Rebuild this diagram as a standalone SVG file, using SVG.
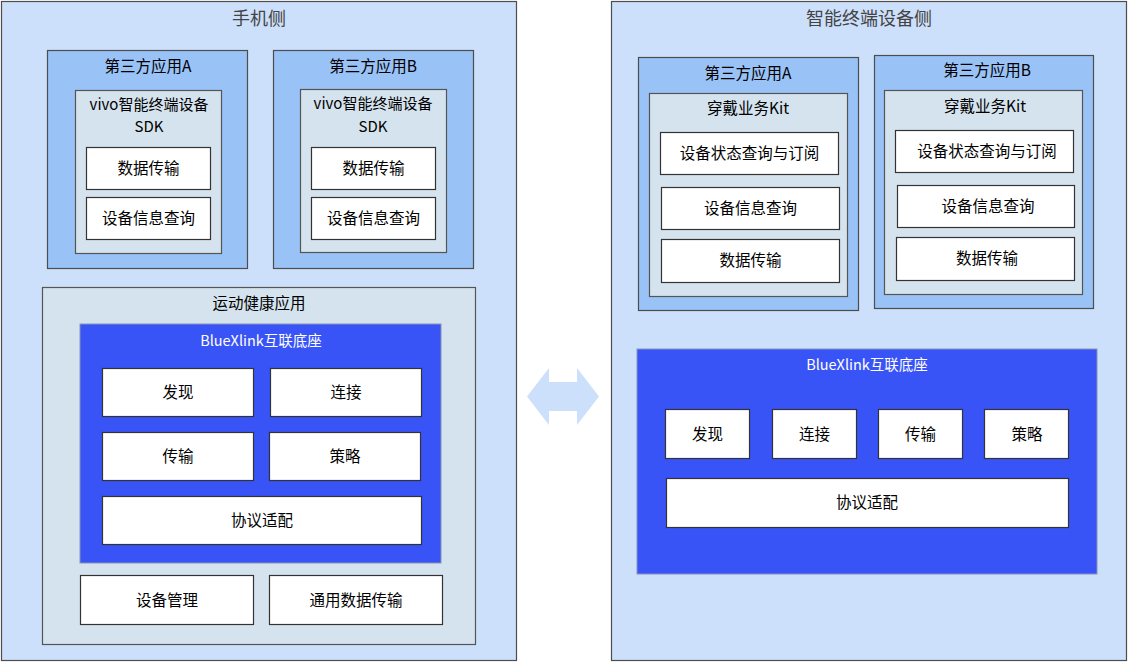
<svg xmlns="http://www.w3.org/2000/svg" width="1128" height="662" viewBox="0 0 1128 662">
<style>
text{font-family:"Noto Sans CJK SC","Microsoft YaHei",sans-serif;font-size:15.5px;fill:#000;text-anchor:middle;dominant-baseline:central;transform:translateY(-1.5px)}
.side{fill:#cce0fb;stroke:#4d4d4d;stroke-width:1.2}
.app{fill:#99c2f7;stroke:#4d4d4d;stroke-width:1.2}
.inner{fill:#d5e3ee;stroke:#555;stroke-width:1.2}
.blue{fill:#3853f6;stroke:#8a93b8;stroke-width:1}
.box{fill:#fff;stroke:#333;stroke-width:1.2}
.title{font-size:18px;fill:#444}
.wt{fill:#fff;font-size:14.5px}
.sdk{font-size:15px}
</style>
<g id="phone-side">
<rect class="side" x="1.5" y="1.5" width="515" height="659"/>
<text class="title" x="259" y="18">手机侧</text>
</g>
<g id="device-side">
<rect class="side" x="611.5" y="1.5" width="515" height="659"/>
<text class="title" x="869" y="18">智能终端设备侧</text>
</g>
<g id="phone-appA">
<rect class="app" x="47.5" y="50.5" width="200" height="218"/>
<text x="148" y="66">第三方应用A</text>
<rect class="inner" x="75.5" y="90.5" width="146" height="163"/>
<text class="sdk" x="149" y="104.5">vivo智能终端设备</text>
<text class="sdk" x="149" y="127">SDK</text>
<rect class="box" x="86.5" y="147.5" width="124" height="42"/>
<text x="148.5" y="168">数据传输</text>
<rect class="box" x="86.5" y="197.5" width="124" height="42"/>
<text x="148.5" y="218">设备信息查询</text>
</g>
<g id="phone-appB">
<rect class="app" x="273.5" y="50.5" width="200" height="218"/>
<text x="373" y="66">第三方应用B</text>
<rect class="inner" x="300.5" y="89.5" width="146" height="163"/>
<text class="sdk" x="373" y="104">vivo智能终端设备</text>
<text class="sdk" x="373" y="126.5">SDK</text>
<rect class="box" x="311.5" y="147.5" width="124" height="42"/>
<text x="373.5" y="168">数据传输</text>
<rect class="box" x="311.5" y="197.5" width="124" height="42"/>
<text x="373.5" y="218">设备信息查询</text>
</g>
<g id="health-app">
<rect class="inner" x="42.5" y="287.5" width="433" height="357"/>
<text x="259" y="303">运动健康应用</text>
<rect class="blue" x="80" y="324" width="361" height="239"/>
<text class="wt" x="261" y="341">BlueXlink互联底座</text>
<rect class="box" x="102.5" y="368.5" width="151" height="48"/>
<text x="178" y="392">发现</text>
<rect class="box" x="270.5" y="368.5" width="151" height="48"/>
<text x="346" y="392">连接</text>
<rect class="box" x="102.5" y="432.5" width="151" height="48"/>
<text x="178" y="456">传输</text>
<rect class="box" x="269.5" y="432.5" width="151" height="48"/>
<text x="345" y="456">策略</text>
<rect class="box" x="102.5" y="496.5" width="319" height="48"/>
<text x="262" y="520">协议适配</text>
<rect class="box" x="80.5" y="575.5" width="173" height="49"/>
<text x="167" y="600">设备管理</text>
<rect class="box" x="269.5" y="575.5" width="173" height="49"/>
<text x="356" y="600">通用数据传输</text>
</g>
<g id="device-appA">
<rect class="app" x="638.5" y="57.5" width="220" height="253"/>
<text x="748" y="73">第三方应用A</text>
<rect class="inner" x="649.5" y="93.5" width="198" height="203"/>
<text x="748" y="108">穿戴业务Kit</text>
<rect class="box" x="660.5" y="132.5" width="178" height="42"/>
<text x="749.5" y="153">设备状态查询与订阅</text>
<rect class="box" x="661.5" y="187.5" width="178" height="42"/>
<text x="750.5" y="208">设备信息查询</text>
<rect class="box" x="661.5" y="239.5" width="178" height="43"/>
<text x="750.5" y="260">数据传输</text>
</g>
<g id="device-appB">
<rect class="app" x="874.5" y="55.5" width="219" height="253"/>
<text x="987" y="70">第三方应用B</text>
<rect class="inner" x="884.5" y="90.5" width="198" height="204"/>
<text x="985" y="106">穿戴业务Kit</text>
<rect class="box" x="895.5" y="130.5" width="178" height="42"/>
<text x="987" y="151">设备状态查询与订阅</text>
<rect class="box" x="897.5" y="185.5" width="177" height="42"/>
<text x="988" y="206">设备信息查询</text>
<rect class="box" x="896.5" y="237.5" width="178" height="43"/>
<text x="987" y="258">数据传输</text>
</g>
<g id="device-bluexlink">
<rect class="blue" x="637" y="349" width="460" height="225"/>
<text class="wt" x="867" y="365">BlueXlink互联底座</text>
<rect class="box" x="665.5" y="409.5" width="84" height="49"/>
<text x="707.5" y="434">发现</text>
<rect class="box" x="772.5" y="409.5" width="84" height="49"/>
<text x="814.5" y="434">连接</text>
<rect class="box" x="878.5" y="409.5" width="84" height="49"/>
<text x="920.5" y="434">传输</text>
<rect class="box" x="984.5" y="409.5" width="84" height="49"/>
<text x="1027" y="434">策略</text>
<rect class="box" x="666.5" y="478.5" width="402" height="49"/>
<text x="867" y="502">协议适配</text>
</g>
<g id="connectors">
<polygon points="527,396.5 549,368 549,382 577,382 577,368 599,396.5 577,425 577,411 549,411 549,425" fill="#cce0fb"/>
</g>
</svg>
